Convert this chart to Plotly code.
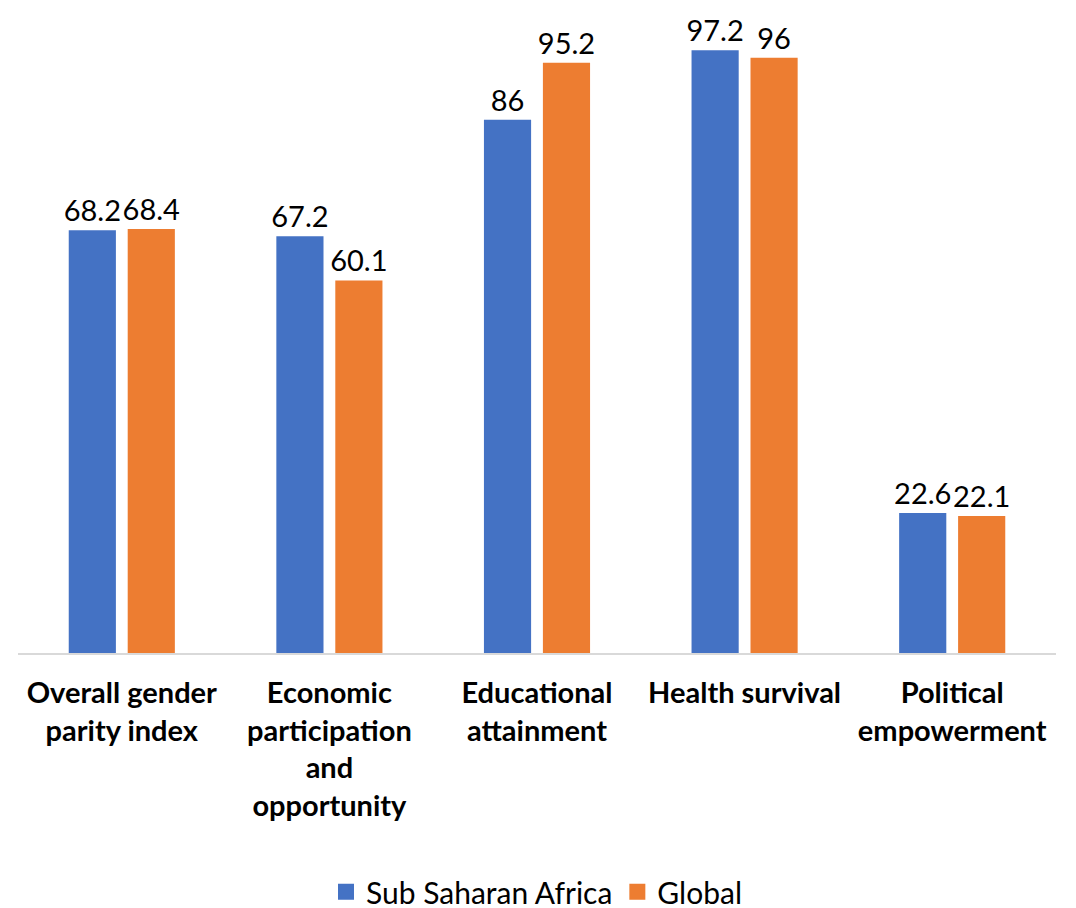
import plotly.graph_objects as go

categories = ["Overall gender<br>parity index",
              "Economic<br>participation<br>and<br>opportunity",
              "Educational<br>attainment",
              "Health survival",
              "Political<br>empowerment"]
series_names = ["Sub Saharan Africa", "Global"]
ssa = [68.2, 67.2, 86, 97.2, 22.6]
glob = [68.4, 60.1, 95.2, 96, 22.1]
colors = ["#4472C4", "#ED7D31"]

font_family = "Lato, Open Sans, sans-serif"

fig = go.Figure()
for name, vals, col in zip(series_names, [ssa, glob], colors):
    fig.add_trace(go.Bar(name=name, x=categories, y=vals, showlegend=False,
                         marker=dict(color=col, line=dict(width=24, color="rgba(0,0,0,0)")),
                         text=[str(v) for v in vals],
                         textposition="outside", cliponaxis=False, constraintext="none",
                         textfont=dict(size=29, color="black", family=font_family)))
for name, col in zip(series_names, colors):
    fig.add_trace(go.Scatter(name=name, x=[None], y=[None], mode="markers",
                             marker=dict(symbol="square", size=16, color=col)))

fig.update_layout(
    width=1068, height=900,
    margin=dict(l=10, r=20, t=25, b=255, autoexpand=False),
    paper_bgcolor="white", plot_bgcolor="white",
    barmode="group", bargap=0.432, bargroupgap=0.2,
    font=dict(family=font_family, size=26, color="black"),
    showlegend=True,
    legend=dict(orientation="h", x=0.5, xanchor="center",
                yref="container", y=0.018, yanchor="middle",
                font=dict(size=30, family=font_family), itemwidth=30,
                itemsizing="trace", tracegroupgap=0),
)
fig.update_xaxes(showline=True, linecolor="#D9D9D9", linewidth=2, automargin=False,
                 tickfont=dict(size=29, family="Lato, sans-serif", color="black", weight="bold"),
                 ticks="", ticklabelstandoff=13)
fig.update_yaxes(range=[0, 100], showgrid=False, showticklabels=False, zeroline=False,
                 automargin=False)

fig.write_html("out.html")
